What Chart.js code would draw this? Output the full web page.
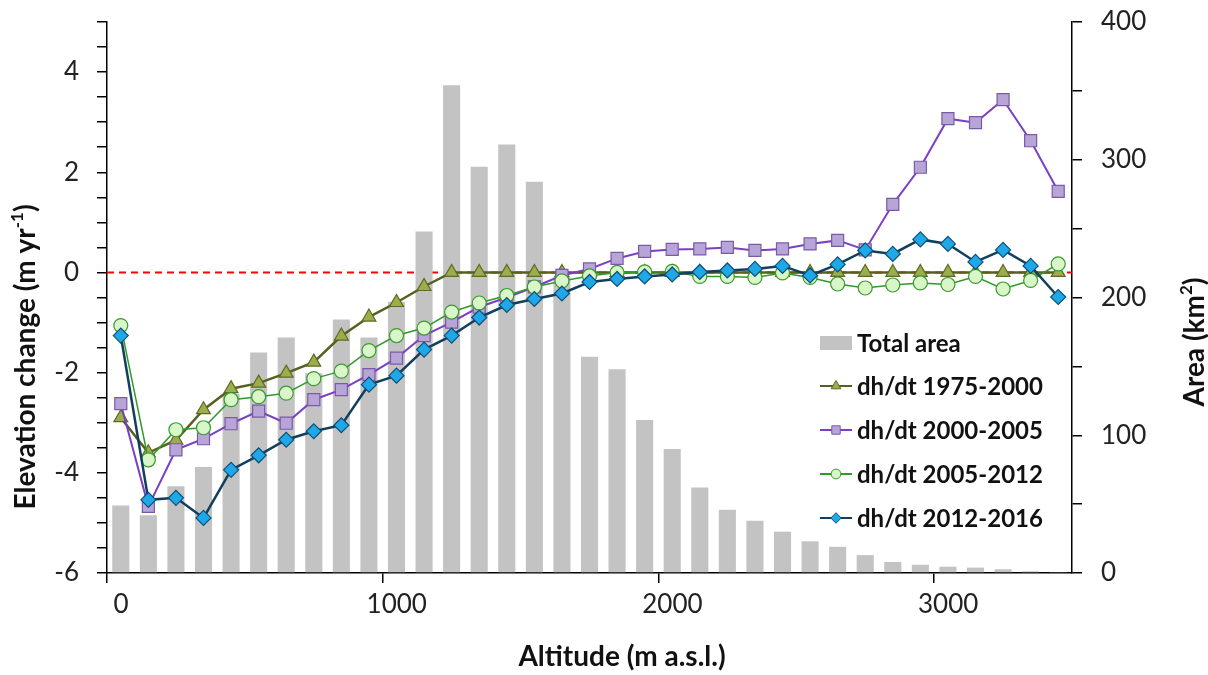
<!DOCTYPE html>
<html>
<head>
<meta charset="utf-8">
<script src="https://cdn.jsdelivr.net/npm/chart.js@4.4.1/dist/chart.umd.min.js"></script>
<style>
    html, body { margin: 0; padding: 0; background: #fff; }
    #wrap { width: 1208px; height: 675px; position: relative; }
</style>
</head>
<body>
<div id="wrap"><canvas id="c"></canvas></div>
<script>
// Altitude bins (m a.s.l., bin centres)
const altitudes = [50, 150, 250, 350, 450, 550, 650, 750, 850, 950,
    1050, 1150, 1250, 1350, 1450, 1550, 1650, 1750, 1850, 1950,
    2050, 2150, 2250, 2350, 2450, 2550, 2650, 2750, 2850, 2950,
    3050, 3150, 3250, 3350, 3450];

// Total glacier area per bin (km2)
const totalArea = [49, 42, 63, 77, 130, 160, 171, 145, 184, 171,
    197, 248, 354, 295, 311, 284, 215, 157, 148, 111,
    90, 62, 46, 38, 30, 23, 19, 13, 8, 6,
    4.6, 3.9, 2.7, 1.2, 0.4];

// Elevation change (m/yr)
const dh1975 = [-2.9, -3.6, -3.35, -2.74, -2.32, -2.21, -2.01, -1.79, -1.27, -0.89,
    -0.6, -0.28, 0, 0, 0, 0, 0, 0, 0, 0,
    0, 0, 0, 0, 0, 0, 0, 0, 0, 0,
    0, 0, 0, 0, 0];
const dh2000 = [-2.62, -4.67, -3.54, -3.32, -3.02, -2.77, -3.01, -2.54, -2.34, -2.04,
    -1.71, -1.26, -0.99, -0.69, -0.5, -0.29, -0.06, 0.07, 0.28, 0.42,
    0.46, 0.47, 0.5, 0.44, 0.47, 0.57, 0.64, 0.45, 1.36, 2.1,
    3.07, 2.99, 3.45, 2.63, 1.62];
const dh2005 = [-1.06, -3.74, -3.14, -3.1, -2.54, -2.48, -2.41, -2.12, -1.97, -1.56,
    -1.26, -1.11, -0.79, -0.61, -0.46, -0.29, -0.17, -0.07, 0.0, 0.01,
    0.02, -0.08, -0.08, -0.1, -0.01, -0.1, -0.23, -0.31, -0.25, -0.21,
    -0.24, -0.08, -0.33, -0.16, 0.17];
const dh2012 = [-1.26, -4.54, -4.5, -4.9, -3.94, -3.65, -3.34, -3.17, -3.05, -2.24,
    -2.06, -1.54, -1.26, -0.9, -0.65, -0.53, -0.42, -0.19, -0.13, -0.08,
    -0.04, 0.01, 0.04, 0.07, 0.13, -0.06, 0.16, 0.44, 0.37, 0.66,
    0.57, 0.21, 0.45, 0.13, -0.49];

// Tick labels on the altitude axis
const xTicks = [0, 1000, 2000, 3000];

const FONT = "Lato, 'Open Sans', sans-serif";
const pts = arr => altitudes.map((a, i) => ({ x: a, y: arr[i] }));

function lineSet(label, arr, style, line, fill, border, lw, r, order) {
    return {
        type: 'line', label, data: pts(arr), yAxisID: 'y',
        borderColor: line, borderWidth: lw, tension: 0,
        pointStyle: style, pointRadius: r, pointBackgroundColor: fill,
        pointBorderColor: border, pointBorderWidth: 1.2, order
    };
}

const datasets = [
    { type: 'bar', label: 'Total area', data: pts(totalArea), yAxisID: 'y2',
      backgroundColor: '#c3c3c3', barPercentage: 0.62, categoryPercentage: 1.0, order: 10 },
    lineSet('dh/dt 1975-2000', dh1975, 'triangle', '#56601f', '#9cad4c', '#5d6a22', 2.5, 8, 4),
    lineSet('dh/dt 2000-2005', dh2000, 'rect', '#7b3fc4', '#b8a5d8', '#7a5aa8', 2, 8.5, 3),
    lineSet('dh/dt 2005-2012', dh2005, 'circle', '#2f9a2a', '#d8f6c8', '#3a9a30', 1.5, 7, 2),
    lineSet('dh/dt 2012-2016', dh2012, 'rectRot', '#123f5e', '#1ea8e8', '#0e4f78', 2.5, 7.5, 1)
];

// draws text pieces (with superscripts) centred at cx,cy
function drawRich(ctx, parts, cx, cy, rot, size) {
    ctx.save();
    ctx.translate(cx, cy);
    ctx.rotate(rot);
    ctx.fillStyle = '#111';
    ctx.textBaseline = 'middle';
    ctx.textAlign = 'left';
    let w = 0;
    parts.forEach(p => {
        ctx.font = `bold ${p.sup ? Math.round(size * 0.62) : size}px ${FONT}`;
        p.w = ctx.measureText(p.t).width;
        w += p.w;
    });
    let x = -w / 2;
    parts.forEach(p => {
        ctx.font = `bold ${p.sup ? Math.round(size * 0.62) : size}px ${FONT}`;
        ctx.fillText(p.t, x, p.sup ? -size * 0.32 : 0);
        x += p.w;
    });
    ctx.restore();
}

const extras = {
    id: 'extras',
    beforeDatasetsDraw(chart) {
        const { ctx, chartArea } = chart;
        const y0 = chart.scales.y.getPixelForValue(0);
        ctx.save();
        ctx.strokeStyle = '#ff0000';
        ctx.lineWidth = 2;
        ctx.setLineDash([7, 5]);
        ctx.beginPath();
        ctx.moveTo(chartArea.left, y0);
        ctx.lineTo(chartArea.right, y0);
        ctx.stroke();
        ctx.restore();
    },
    afterDraw(chart) {
        const ctx = chart.ctx;
        // axis titles
        drawRich(ctx, [{ t: 'Elevation change (m yr' }, { t: '-1', sup: true }, { t: ')' }], 26, 357, -Math.PI / 2, 28);
        drawRich(ctx, [{ t: 'Area (km' }, { t: '2', sup: true }, { t: ')' }], 1195, 342, -Math.PI / 2, 28);
        drawRich(ctx, [{ t: 'Altitude (m a.s.l.)' }], 622, 657, 0, 28);

        // legend
        const lx = 820, lw = 32, tx = 857;
        const rows = [343, 386, 430, 474, 518];
        ctx.save();
        ctx.font = `bold 24px ${FONT}`;
        ctx.textBaseline = 'middle';
        chart.data.datasets.forEach((ds, i) => {
            const y = rows[i];
            if (ds.type === 'bar') {
                ctx.fillStyle = ds.backgroundColor;
                ctx.fillRect(lx, y - 7, lw, 14);
            } else {
                ctx.strokeStyle = ds.borderColor;
                ctx.lineWidth = 2;
                ctx.setLineDash([]);
                ctx.beginPath();
                ctx.moveTo(lx, y);
                ctx.lineTo(lx + lw, y);
                ctx.stroke();
                ctx.fillStyle = ds.pointBackgroundColor;
                ctx.strokeStyle = ds.pointBorderColor;
                ctx.lineWidth = 1;
                Chart.helpers.drawPoint(ctx, { pointStyle: ds.pointStyle, radius: ds.pointRadius * 0.7, borderWidth: 1, rotation: 0 }, lx + lw / 2, y);
            }
            ctx.fillStyle = '#111';
            ctx.fillText(ds.label, tx, y + 1);
        });
        ctx.restore();
    }
};

const axisGrid = { drawOnChartArea: false, color: '#000', tickLength: 10, lineWidth: 1.5 };
const axisBorder = { color: '#000', width: 1.5 };
const tickFont = { family: FONT, size: 26 };

// fixed axis sizes so the plot area sits where it does in the figure
function fixSize(prop, size) {
    return s => {
        s[prop] = size;
        s.paddingTop = 0; s.paddingBottom = 0;
        s.paddingLeft = 0; s.paddingRight = 0;
    };
}

new Chart(document.getElementById('c'), {
    type: 'line',
    data: { datasets },
    options: {
        responsive: true,
        maintainAspectRatio: false,
        animation: false,
        layout: { padding: { top: 22, left: 0, right: 0, bottom: 0 } },
        plugins: { legend: { display: false }, tooltip: { enabled: false } },
        scales: {
            x: {
                type: 'linear', min: 0, max: 3500, offset: false,
                grid: { ...axisGrid, offset: false },
                border: axisBorder,
                ticks: { padding: 6, labelOffset: 14, color: '#222', font: tickFont,
                         maxRotation: 0, autoSkip: false, callback: v => String(v) },
                afterBuildTicks: s => { s.ticks = xTicks.map(v => ({ value: v })); },
                afterFit: fixSize('height', 102)
            },
            y: {
                position: 'left', min: -6, max: 5,
                grid: axisGrid, border: axisBorder,
                ticks: { stepSize: 0.5, autoSkip: false, padding: 18, color: '#222', font: tickFont,
                         callback: v => (Math.abs(v % 2) < 1e-9 ? String(v) : '') },
                afterFit: fixSize('width', 107)
            },
            y2: {
                position: 'right', min: 0, max: 400,
                grid: axisGrid, border: axisBorder,
                ticks: { stepSize: 50, autoSkip: false, padding: 19, color: '#222', font: tickFont,
                         callback: v => (v % 100 === 0 ? String(v) : '') },
                afterFit: fixSize('width', 136)
            }
        }
    },
    plugins: [extras]
});
</script>
</body>
</html>
